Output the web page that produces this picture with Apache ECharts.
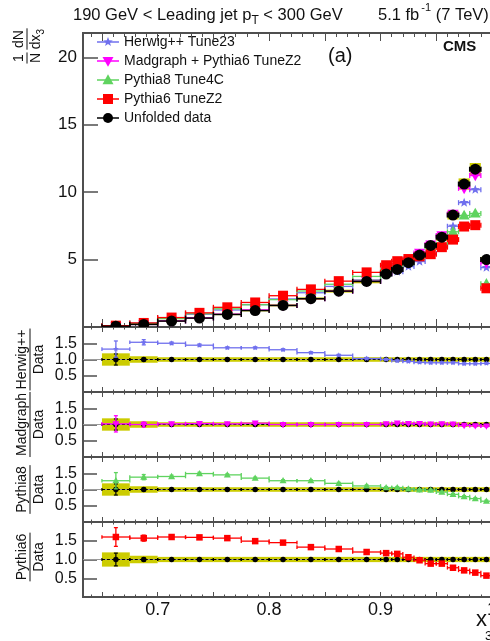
<!DOCTYPE html>
<html>
<head>
<meta charset="utf-8">
<script src="https://cdn.jsdelivr.net/npm/echarts@6/dist/echarts.min.js"></script>
<style>
  html, body { margin: 0; padding: 0; background: #fff; }
  #chart { width: 490px; height: 641px; }
</style>
</head>
<body>
<div id="chart"></div>
<script>
// ---- binning in x3 ----
const binEdges = [0.65, 0.675, 0.7, 0.725, 0.75, 0.775, 0.8, 0.825, 0.85, 0.875, 0.9,
                  0.91, 0.92, 0.93, 0.94, 0.95, 0.96, 0.97, 0.98, 0.99, 1.0];

// ---- 1/N dN/dx3 ----
const dataVals     = [0.06, 0.19, 0.44, 0.66, 0.93, 1.22, 1.60, 2.10, 2.66, 3.38, 3.93, 4.27, 4.77, 5.33, 6.05, 6.66, 8.30, 10.60, 11.70, 5.00];
const dataSysHalf  = [0.01, 0.02, 0.03, 0.04, 0.05, 0.06, 0.07, 0.09, 0.11, 0.14, 0.16, 0.17, 0.19, 0.21, 0.24, 0.27, 0.33, 0.42, 0.46, 0.20];
const herwigVals   = [0.08, 0.29, 0.66, 0.95, 1.26, 1.66, 2.08, 2.54, 3.01, 3.48, 3.93, 4.10, 4.48, 4.85, 5.45, 5.99, 7.47, 9.22, 10.18, 4.40];
const madgraphVals = [0.06, 0.19, 0.45, 0.68, 0.95, 1.27, 1.60, 2.10, 2.66, 3.38, 4.01, 4.44, 4.91, 5.49, 6.11, 6.79, 8.38, 10.28, 11.23, 4.75];
const pythia8Vals  = [0.08, 0.26, 0.62, 0.98, 1.35, 1.65, 2.03, 2.67, 3.17, 3.75, 4.17, 4.53, 4.87, 5.28, 5.93, 6.13, 7.06, 8.27, 8.42, 3.20];
const pythia6Vals  = [0.10, 0.30, 0.70, 1.05, 1.46, 1.82, 2.32, 2.79, 3.40, 4.05, 4.58, 4.88, 5.04, 5.24, 5.40, 5.92, 6.48, 7.45, 7.55, 2.87];

// ---- MC / Data ----
const dataRatio      = [1, 1, 1, 1, 1, 1, 1, 1, 1, 1, 1, 1, 1, 1, 1, 1, 1, 1, 1, 1];
const dataRatioErr   = [0.17, 0.04, 0.02, 0.02, 0.02, 0.02, 0.02, 0.02, 0.02, 0.02, 0.02, 0.02, 0.02, 0.02, 0.02, 0.02, 0.02, 0.02, 0.02, 0.02];
const ratioBandHalf  = [0.19, 0.10, 0.07, 0.07, 0.07, 0.07, 0.07, 0.07, 0.07, 0.07, 0.07, 0.07, 0.07, 0.07, 0.07, 0.07, 0.07, 0.07, 0.07, 0.07];
const modelRatioErr  = [0.25, 0.08, 0.04, 0.04, 0.03, 0.03, 0.03, 0.03, 0.03, 0.03, 0.03, 0.03, 0.03, 0.03, 0.03, 0.03, 0.03, 0.03, 0.03, 0.03];
const herwigRatio    = [1.32, 1.53, 1.50, 1.44, 1.36, 1.36, 1.30, 1.21, 1.13, 1.03, 1.00, 0.96, 0.94, 0.91, 0.90, 0.90, 0.90, 0.87, 0.87, 0.88];
const madgraphRatio  = [1.02, 1.00, 1.02, 1.03, 1.02, 1.04, 1.00, 1.00, 1.00, 1.00, 1.02, 1.04, 1.03, 1.03, 1.01, 1.02, 1.01, 0.97, 0.96, 0.95];
const pythia8Ratio   = [1.27, 1.38, 1.40, 1.49, 1.45, 1.35, 1.27, 1.27, 1.19, 1.11, 1.06, 1.06, 1.02, 0.99, 0.98, 0.92, 0.85, 0.78, 0.72, 0.64];
const pythia6Ratio   = [1.60, 1.57, 1.60, 1.59, 1.57, 1.49, 1.45, 1.33, 1.28, 1.20, 1.17, 1.15, 1.06, 0.98, 0.89, 0.89, 0.78, 0.71, 0.65, 0.57];

// ---- axes ----
const xMajorTicks = [0.65, 0.7, 0.75, 0.8, 0.85, 0.9, 0.95, 1.0];
const xMinorTicks = [0.64, 0.65, 0.66, 0.67, 0.68, 0.69, 0.7, 0.71, 0.72, 0.73, 0.74, 0.75, 0.76, 0.77, 0.78, 0.79,
                     0.8, 0.81, 0.82, 0.83, 0.84, 0.85, 0.86, 0.87, 0.88, 0.89, 0.9, 0.91, 0.92, 0.93, 0.94, 0.95,
                     0.96, 0.97, 0.98, 0.99, 1.0];
const xLabels     = [0.7, 0.8, 0.9, 1.0];
const mainYTicks  = [5, 10, 15, 20];
const ratioYTicks = [0.5, 1.0, 1.5];

const FONT = '"Liberation Sans", Arial, Helvetica, sans-serif';
const TXT = '#111111';
const AX = '#4f4f4f';
const C_HERWIG = '#7070ee';
const C_MADGRAPH = '#ff00ff';
const C_PYTHIA8 = '#5fd35f';
const C_PYTHIA6 = '#ff0000';
const C_DATA = '#000000';
const C_BAND = '#cccc00';

const X_MIN = 0.633, X_MAX = 1.0;
const GRID_LEFT = 83, GRID_WIDTH = 409;

const panels = [
  { top: 33,  height: 294, yMax: 21.8, yTicks: mainYTicks,  yTickLen: 15, xTickLen: [8, 4], yFont: 17 },
  { top: 327, height: 65,  yMax: 2.0,  yTicks: ratioYTicks, yTickLen: 14, xTickLen: [5, 2.5], yFont: 16, title: 'Herwig++' },
  { top: 392, height: 65,  yMax: 2.0,  yTicks: ratioYTicks, yTickLen: 14, xTickLen: [5, 2.5], yFont: 16, title: 'Madgraph' },
  { top: 457, height: 65,  yMax: 2.0,  yTicks: ratioYTicks, yTickLen: 14, xTickLen: [5, 2.5], yFont: 16, title: 'Pythia8' },
  { top: 522, height: 75,  yMax: 2.0,  yTicks: ratioYTicks, yTickLen: 14, xTickLen: [5, 2.5], yFont: 16, title: 'Pythia6' }
];

const mctx = document.createElement('canvas').getContext('2d');
function textWidth(s, size, weight) {
  mctx.font = (weight || 'normal') + ' ' + size + 'px ' + FONT;
  return mctx.measureText(s).width;
}

function binItems(vals, errs) {
  return vals.map((v, i) => [binEdges[i], binEdges[i + 1], (binEdges[i] + binEdges[i + 1]) / 2, v, errs ? errs[i] : 0]);
}

function marker(kind, x, y, s, color) {
  const r = s / 2;
  if (kind === 'circle') return { type: 'circle', shape: { cx: x, cy: y, r: r }, style: { fill: color } };
  if (kind === 'square') return { type: 'rect', shape: { x: x - r, y: y - r, width: s, height: s }, style: { fill: color } };
  if (kind === 'triUp') return { type: 'polygon', shape: { points: [[x, y - r * 1.05], [x + r, y + r * 0.75], [x - r, y + r * 0.75]] }, style: { fill: color } };
  if (kind === 'triDown') return { type: 'polygon', shape: { points: [[x, y + r * 1.05], [x + r, y - r * 0.75], [x - r, y - r * 0.75]] }, style: { fill: color } };
  // five-pointed star
  const pts = [];
  for (let k = 0; k < 10; k++) {
    const rr = k % 2 === 0 ? r : r * 0.42;
    const a = -Math.PI / 2 + k * Math.PI / 5;
    pts.push([x + rr * Math.cos(a), y + rr * Math.sin(a)]);
  }
  return { type: 'polygon', shape: { points: pts }, style: { fill: color } };
}

// horizontal bin-width bar with end caps, vertical error and marker
function pointsRenderer(st) {
  return function (params, api) {
    const lo = api.value(0), hi = api.value(1), c = api.value(2), v = api.value(3), e = api.value(4);
    const pL = api.coord([lo, v]), pR = api.coord([hi, v]), pC = api.coord([c, v]);
    const pT = api.coord([c, v + e]), pB = api.coord([c, v - e]);
    const line = { stroke: st.color, lineWidth: st.lw };
    const children = [
      { type: 'line', shape: { x1: pL[0], y1: pL[1], x2: pR[0], y2: pR[1] }, style: { stroke: st.color, lineWidth: st.lw, lineDash: st.dash || null } },
      { type: 'line', shape: { x1: pL[0], y1: pL[1] - st.cap, x2: pL[0], y2: pL[1] + st.cap }, style: line },
      { type: 'line', shape: { x1: pR[0], y1: pR[1] - st.cap, x2: pR[0], y2: pR[1] + st.cap }, style: line }
    ];
    if (e > 0) {
      children.push({ type: 'line', shape: { x1: pC[0], y1: pT[1], x2: pC[0], y2: pB[1] }, style: line });
      children.push({ type: 'line', shape: { x1: pC[0] - 2, y1: pT[1], x2: pC[0] + 2, y2: pT[1] }, style: line });
      children.push({ type: 'line', shape: { x1: pC[0] - 2, y1: pB[1], x2: pC[0] + 2, y2: pB[1] }, style: line });
    }
    children.push(marker(st.marker, pC[0], pC[1], st.size, st.color));
    return { type: 'group', children: children };
  };
}

// systematic band boxes
function bandRenderer(params, api) {
  const lo = api.value(0), hi = api.value(1), v = api.value(3), e = api.value(4);
  const a = api.coord([lo, v + e]), b = api.coord([hi, v - e]);
  return { type: 'rect', shape: { x: a[0], y: a[1], width: b[0] - a[0], height: b[1] - a[1] }, style: { fill: C_BAND } };
}

const grids = [], xAxes = [], yAxes = [], series = [];

function xAxisDef(gi, position, ticks, len, showLabel) {
  return {
    type: 'value', gridIndex: gi, position: position, min: X_MIN, max: X_MAX,
    axisLine: { show: true, onZero: false, lineStyle: { color: AX, width: 2 } },
    axisTick: { show: true, inside: true, length: len, customValues: ticks, lineStyle: { color: AX, width: 1 } },
    axisLabel: {
      show: showLabel, customValues: xLabels, margin: 4, hideOverlap: false,
      fontSize: 18, fontFamily: FONT, color: TXT,
      formatter: function (v) { return Math.abs(v - 1) < 1e-9 ? '1' : v.toFixed(1); }
    },
    splitLine: { show: false }
  };
}

panels.forEach(function (p, i) {
  grids.push({ left: GRID_LEFT, top: p.top, width: GRID_WIDTH, height: p.height, containLabel: false, outerBoundsMode: 'none' });
  const last = i === panels.length - 1;
  xAxes.push(xAxisDef(i, 'bottom', xMajorTicks, p.xTickLen[0], last));
  xAxes.push(xAxisDef(i, 'bottom', xMinorTicks, p.xTickLen[1], false));
  xAxes.push(xAxisDef(i, 'top', xMajorTicks, p.xTickLen[0], false));
  xAxes.push(xAxisDef(i, 'top', xMinorTicks, p.xTickLen[1], false));
  yAxes.push({
    type: 'value', gridIndex: i, position: 'left', min: 0, max: p.yMax,
    axisLine: { show: true, onZero: false, lineStyle: { color: AX, width: 2 } },
    axisTick: { show: true, inside: true, length: p.yTickLen, customValues: p.yTicks, lineStyle: { color: AX, width: 1.5 } },
    axisLabel: {
      customValues: p.yTicks, interval: 0, margin: 6, fontSize: p.yFont, lineHeight: 14,
      fontFamily: FONT, color: TXT, hideOverlap: false,
      formatter: function (v) { return i === 0 ? String(v) : v.toFixed(1); }
    },
    splitLine: { show: false }
  });
});

function customSeries(panel, data, renderItem, z) {
  return {
    type: 'custom', xAxisIndex: panel * 4, yAxisIndex: panel, clip: true, silent: true,
    renderItem: renderItem, data: data, encode: { x: [0, 1, 2], y: 3 }, z: z || 2, animation: false
  };
}

// ---- main panel ----
series.push(customSeries(0, binItems(dataVals, dataSysHalf), bandRenderer, 1));
series.push(customSeries(0, binItems(herwigVals), pointsRenderer({ color: C_HERWIG, marker: 'star', size: 10, lw: 1.3, cap: 2.5 })));
series.push(customSeries(0, binItems(madgraphVals), pointsRenderer({ color: C_MADGRAPH, marker: 'triDown', size: 11, lw: 1.3, cap: 2.5 })));
series.push(customSeries(0, binItems(pythia8Vals), pointsRenderer({ color: C_PYTHIA8, marker: 'triUp', size: 11, lw: 1.3, cap: 2.5 })));
series.push(customSeries(0, binItems(pythia6Vals), pointsRenderer({ color: C_PYTHIA6, marker: 'square', size: 10, lw: 1.3, cap: 2.5 })));
series.push(customSeries(0, binItems(dataVals), pointsRenderer({ color: C_DATA, marker: 'circle', size: 11, lw: 1.5, cap: 2.5 })));

// ---- ratio panels ----
const ratioModels = [
  { vals: herwigRatio,   color: C_HERWIG,   marker: 'star',    size: 6 },
  { vals: madgraphRatio, color: C_MADGRAPH, marker: 'triDown', size: 7 },
  { vals: pythia8Ratio,  color: C_PYTHIA8,  marker: 'triUp',   size: 7 },
  { vals: pythia6Ratio,  color: C_PYTHIA6,  marker: 'square',  size: 6.5 }
];
ratioModels.forEach(function (m, k) {
  const pi = k + 1;
  series.push({
    type: 'line', xAxisIndex: pi * 4, yAxisIndex: pi, silent: true, symbol: 'none', animation: false, z: 1,
    data: [[X_MIN, 1], [X_MAX, 1]], lineStyle: { color: '#9a9a9a', width: 1 }
  });
  series.push(customSeries(pi, binItems(dataRatio, ratioBandHalf), bandRenderer, 1));
  series.push(customSeries(pi, binItems(dataRatio, dataRatioErr), pointsRenderer({ color: C_DATA, marker: 'circle', size: 5.5, lw: 1.2, cap: 1.5, dash: [3, 2] })));
  series.push(customSeries(pi, binItems(m.vals, modelRatioErr), pointsRenderer({ color: m.color, marker: m.marker, size: m.size, lw: 1.3, cap: 1.8 })));
});

// ---- text, legend, axis titles ----
function txt(s, x, y, size, o) {
  o = o || {};
  return {
    type: 'text', x: x, y: y, silent: true,
    style: {
      text: s, fill: o.color || TXT, fontSize: size, fontFamily: FONT, fontWeight: o.weight || 'normal',
      align: o.align || 'left', verticalAlign: o.vAlign || 'middle',
      textAlign: o.align || 'left', textVerticalAlign: o.vAlign || 'middle'
    }
  };
}

const graphics = [];

// header
(function () {
  const fs = 16.5;
  const s1 = '190 GeV < Leading jet p', s2 = 'T', s3 = ' < 300 GeV';
  let x = 73;
  graphics.push(txt(s1, x, 15, fs));
  x += textWidth(s1, fs);
  graphics.push(txt(s2, x, 21, 12));
  x += textWidth(s2, 12);
  graphics.push(txt(s3, x, 15, fs));

  const r1 = '5.1 fb', r2 = '-1', r3 = ' (7 TeV)';
  let xr = 378;
  graphics.push(txt(r1, xr, 15, fs));
  xr += textWidth(r1, fs) + 2;
  graphics.push(txt(r2, xr, 8, 11));
  xr += textWidth(r2, 11);
  graphics.push(txt(r3, xr, 15, fs));
})();

graphics.push(txt('CMS', 443, 47, 15, { weight: 'bold' }));
graphics.push(txt('(a)', 328, 56, 20));

// legend
const legendEntries = [
  { name: 'Herwig++ Tune23', color: C_HERWIG, marker: 'star', size: 10 },
  { name: 'Madgraph + Pythia6 TuneZ2', color: C_MADGRAPH, marker: 'triDown', size: 11 },
  { name: 'Pythia8 Tune4C', color: C_PYTHIA8, marker: 'triUp', size: 11 },
  { name: 'Pythia6 TuneZ2', color: C_PYTHIA6, marker: 'square', size: 10 },
  { name: 'Unfolded data', color: C_DATA, marker: 'circle', size: 10 }
];
const legendY = [42, 61, 80, 99, 118];
legendEntries.forEach(function (e, i) {
  const y = legendY[i];
  graphics.push({ type: 'line', silent: true, shape: { x1: 97, y1: y, x2: 119, y2: y }, style: { stroke: e.color, lineWidth: 1.5 } });
  const m = marker(e.marker, 108, y, e.size, e.color);
  m.silent = true;
  graphics.push(m);
  graphics.push(txt(e.name, 124, y, 14));
});

// rotated fraction titles
function fraction(cx, cy, num, den, size) {
  const w = Math.max(textWidth(num, size), textWidth(den, size)) + 2;
  return {
    type: 'group', x: cx, y: cy, rotation: Math.PI / 2, silent: true,
    children: [
      txt(num, 0, -1, size, { align: 'center', vAlign: 'bottom' }),
      { type: 'line', shape: { x1: -w / 2, y1: 0, x2: w / 2, y2: 0 }, style: { stroke: TXT, lineWidth: 1 } },
      txt(den, 0, 2, size, { align: 'center', vAlign: 'top' })
    ]
  };
}
panels.forEach(function (p, i) {
  if (!p.title) return;
  const cy = i === panels.length - 1 ? p.top + 35 : p.top + p.height / 2;
  graphics.push(fraction(30, cy, p.title, 'Data', 14));
});

// main y title: (1/N) dN/dx3
(function () {
  const size = 14;
  const wN = textWidth('N', size) + 1;
  const wD = textWidth('dx', size) + textWidth('3', 10) + 1;
  graphics.push({
    type: 'group', x: 27, y: 50, rotation: Math.PI / 2, silent: true,
    children: [
      txt('1', -8, -1, size, { align: 'center', vAlign: 'bottom' }),
      { type: 'line', shape: { x1: -8 - wN / 2, y1: 0, x2: -8 + wN / 2, y2: 0 }, style: { stroke: TXT, lineWidth: 1 } },
      txt('N', -8, 2, size, { align: 'center', vAlign: 'top' }),
      txt('dN', 11, -1, size, { align: 'center', vAlign: 'bottom' }),
      { type: 'line', shape: { x1: 11 - wD / 2, y1: 0, x2: 11 + wD / 2, y2: 0 }, style: { stroke: TXT, lineWidth: 1 } },
      txt('dx', 11 - wD / 2 + 0.5, 2, size, { align: 'left', vAlign: 'top' }),
      txt('3', 11 - wD / 2 + 0.5 + textWidth('dx', size), 9, 10, { align: 'left', vAlign: 'top' })
    ]
  });
})();

// x axis title
graphics.push(txt('x', 476, 620, 22));
graphics.push(txt('3', 485, 636, 13));

const chart = echarts.init(document.getElementById('chart'), null, { renderer: 'canvas' });
chart.setOption({
  animation: false,
  backgroundColor: '#ffffff',
  grid: grids,
  xAxis: xAxes,
  yAxis: yAxes,
  series: series,
  graphic: { elements: graphics }
});
</script>
</body>
</html>
